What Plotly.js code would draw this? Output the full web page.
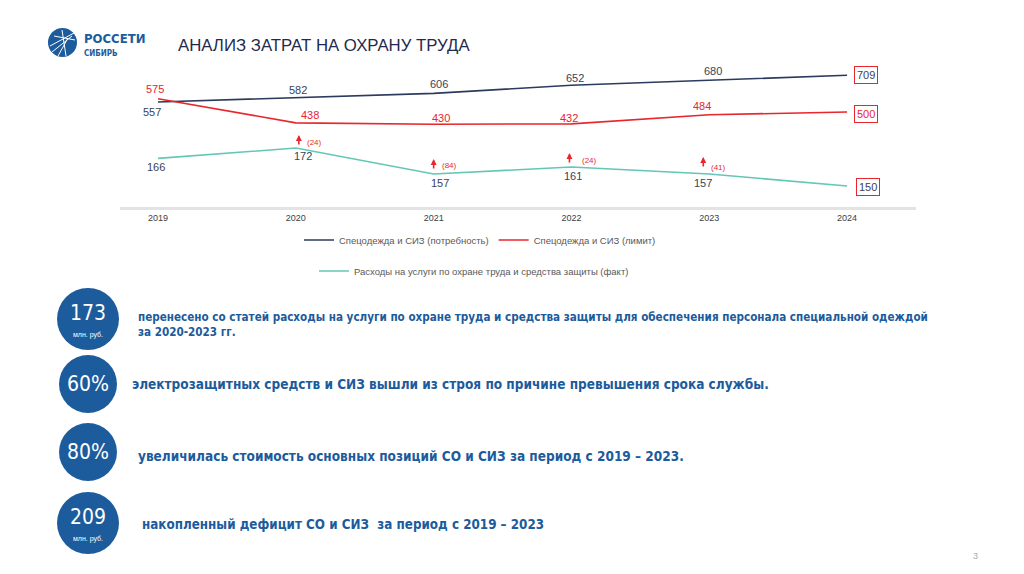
<!DOCTYPE html>
<html>
<head>
<meta charset="utf-8">
<script src="https://cdn.plot.ly/plotly-3.0.1.min.js"></script>
<style>html,body{margin:0;padding:0;background:#fff;}#chart{width:1024px;height:574px;}</style>
</head>
<body>
<div id="chart"></div>
<script>
// ---- data ----
const years = [2019, 2020, 2021, 2022, 2023, 2024];
const needValues = [557, 582, 606, 652, 680, 709];   // Спецодежда и СИЗ (потребность)
const limitValues = [575, 438, 430, 432, 484, 500];  // Спецодежда и СИЗ (лимит)
const factValues = [166, 172, 157, 161, 157, 150];   // Расходы на услуги ... (факт)
const transferYears = [2020, 2021, 2022, 2023];
const transferValues = [24, 84, 24, 41];
const seriesNames = ["Спецодежда и СИЗ (потребность)", "Спецодежда и СИЗ (лимит)", "Расходы на услуги по охране труда и средства защиты (факт)"];
const tickLabels = ["2019", "2020", "2021", "2022", "2023", "2024"];
const badgeMain = ["173", "60%", "80%", "209"];
const badgeSub = ["млн. руб.", "", "", "млн. руб."];
const badgeTexts = [
  "перенесено со статей расходы на услуги по охране труда и средства защиты для обеспечения персонала специальной одеждой<br>за 2020-2023 гг.",
  "электрозащитных средств и СИЗ вышли из строя по причине превышения срока службы.",
  "увеличилась стоимость основных позиций СО и СИЗ за период с 2019 – 2023.",
  "накопленный дефицит СО и СИЗ  за период с 2019 – 2023"
];
const titleText = "АНАЛИЗ ЗАТРАТ НА ОХРАНУ ТРУДА";

// ---- helpers ----
const W = 1024, H = 574;
const px = x => x / W;
const py = y => 1 - y / H;
const NAVY = "#2b3a5e", LABEL = "#3b4256", RED = "#e8262c", TEAL = "#63c7b6", BLUE = "#1c5b9c";
const FONT = "Liberation Sans, Arial, sans-serif";
const NARROW = "DejaVu Sans Condensed, Liberation Sans, sans-serif";

const traces = [
  {x: years, y: needValues, name: seriesNames[0], mode: "lines", line: {color: NAVY, width: 1.6}, legend: "legend", hoverinfo: "skip"},
  {x: years, y: limitValues, name: seriesNames[1], mode: "lines", line: {color: RED, width: 1.6}, legend: "legend", hoverinfo: "skip"},
  {x: years, y: factValues, name: seriesNames[2], mode: "lines", line: {color: TEAL, width: 1.6}, yaxis: "y2", legend: "legend2", hoverinfo: "skip"}
];

const ann = [];
// blue labels
const needShift = [[-6, -10], [2, 8], [5, 9], [4, 7], [4, 9], [19, 0]];
needValues.forEach((v, i) => {
  const last = i === needValues.length - 1;
  ann.push({x: years[i], y: v, xref: "x", yref: "y", text: String(v), showarrow: false,
    xshift: needShift[i][0], yshift: needShift[i][1],
    font: {family: FONT, size: 11, color: LABEL},
    bordercolor: last ? RED : "rgba(0,0,0,0)", borderwidth: last ? 1 : 0, borderpad: 2});
});
const limitShift = [[-3, 10], [14, 8], [7, 6], [-2, 6], [-7, 9], [19, -2]];
limitValues.forEach((v, i) => {
  const last = i === limitValues.length - 1;
  ann.push({x: years[i], y: v, xref: "x", yref: "y", text: String(v), showarrow: false,
    xshift: limitShift[i][0], yshift: limitShift[i][1],
    font: {family: FONT, size: 11, color: RED},
    bordercolor: last ? RED : "rgba(0,0,0,0)", borderwidth: last ? 1 : 0, borderpad: 2});
});
const factShift = [[-2, -9], [7, -8], [6, -9], [2, -9], [-6, -9], [21, -1]];
factValues.forEach((v, i) => {
  const last = i === factValues.length - 1;
  ann.push({x: years[i], y: v, xref: "x", yref: "y2", text: String(v), showarrow: false,
    xshift: factShift[i][0], yshift: factShift[i][1],
    font: {family: FONT, size: 11, color: LABEL},
    bordercolor: last ? RED : "rgba(0,0,0,0)", borderwidth: last ? 1 : 0, borderpad: 2});
});
// transfer arrows
const arrowShift = [[3, 13], [0, 15], [-2, 14], [-6, 17]];
const arrowTextShift = [[19, 6], [16, 8], [18, 7], [9, 6]];
transferYears.forEach((yr, i) => {
  const v = factValues[years.indexOf(yr)];
  ann.push({x: yr, y: v, xref: "x", yref: "y2", text: "", showarrow: true,
    ax: 0, ay: 11, arrowhead: 2, arrowsize: 0.75, arrowwidth: 1.6, arrowcolor: RED,
    xshift: arrowShift[i][0], yshift: arrowShift[i][1], standoff: 0, startstandoff: 0});
  ann.push({x: yr, y: v, xref: "x", yref: "y2", text: "(" + transferValues[i] + ")", showarrow: false,
    xshift: arrowTextShift[i][0], yshift: arrowTextShift[i][1],
    font: {family: FONT, size: 8, color: RED}});
});

// title & logo
ann.push({x: px(176), y: py(45), xref: "paper", yref: "paper", xanchor: "left", yanchor: "middle",
  text: titleText, showarrow: false, font: {family: FONT, size: 16.8, color: "#1f2a4d"}});
ann.push({x: px(82), y: py(38), xref: "paper", yref: "paper", xanchor: "left", yanchor: "middle",
  text: "<b>РОССЕТИ</b>", showarrow: false, font: {family: NARROW, size: 13, color: BLUE}});
ann.push({x: px(82), y: py(53), xref: "paper", yref: "paper", xanchor: "left", yanchor: "middle",
  text: "<b>СИБИРЬ</b>", showarrow: false, font: {family: NARROW, size: 8, color: BLUE}});
ann.push({x: px(975), y: py(556), xref: "paper", yref: "paper", xanchor: "center", yanchor: "middle",
  text: "3", showarrow: false, font: {family: FONT, size: 9, color: "#aaaaaa"}});

// badges
const badgeCY = [319, 384, 452, 523];
const badgeR = [31, 29, 29, 31];
const badgeTextX = [136, 130, 136, 140];
const badgeTextY = [324, 384, 456, 524];
const badgeTextSize = [11.6, 13.5, 13.5, 13.3];
const shapes = [];
badgeMain.forEach((t, i) => {
  const cx = 88, cy = badgeCY[i], r = badgeR[i];
  shapes.push({type: "circle", xref: "paper", yref: "paper", x0: px(cx - r), x1: px(cx + r), y0: py(cy + r), y1: py(cy - r),
    fillcolor: BLUE, line: {width: 0}});
  const hasSub = badgeSub[i] !== "";
  ann.push({x: px(cx), y: py(hasSub ? cy - 6 : cy), xref: "paper", yref: "paper", xanchor: "center", yanchor: "middle",
    text: t, showarrow: false, font: {family: NARROW, size: 21, color: "#ffffff", weight: 300}});
  if (hasSub) ann.push({x: px(cx), y: py(cy + 16), xref: "paper", yref: "paper", xanchor: "center", yanchor: "middle",
    text: badgeSub[i], showarrow: false, font: {family: FONT, size: 7, color: "#ffffff"}});
  ann.push({x: px(badgeTextX[i]), y: py(badgeTextY[i]), xref: "paper", yref: "paper", xanchor: "left", yanchor: "middle", align: "left",
    text: "<b>" + badgeTexts[i] + "</b>", showarrow: false, font: {family: NARROW, size: badgeTextSize[i], color: BLUE}});
});

// logo icon
shapes.push({type: "circle", xref: "paper", yref: "paper", x0: px(48), x1: px(77), y0: py(57), y1: py(28), fillcolor: BLUE, line: {width: 0}});
[[50, 46, 74, 33], [52, 52, 72, 36], [58, 56, 68, 38], [62, 30, 66, 56], [54, 36, 75, 40]].forEach(s => {
  shapes.push({type: "line", xref: "paper", yref: "paper", x0: px(s[0]), y0: py(s[1]), x1: px(s[2]), y1: py(s[3]), line: {color: "#ffffff", width: 1}});
});

const layout = {
  width: W, height: H,
  margin: {l: 0, r: 0, t: 0, b: 0},
  paper_bgcolor: "#ffffff", plot_bgcolor: "#ffffff",
  showlegend: true,
  xaxis: {domain: [px(120), px(916)], range: [2018.724, 2024.5], tickvals: years, ticktext: tickLabels,
    showgrid: false, zeroline: false, showline: true, linecolor: "#e3e3e3", linewidth: 3, ticks: "",
    tickfont: {family: FONT, size: 9, color: "#404040"}, anchor: "y", fixedrange: true},
  yaxis: {domain: [py(207), py(60)], range: [-41.6, 796], visible: false, fixedrange: true},
  yaxis2: {domain: [py(207), py(60)], range: [137.9, 222.9], overlaying: "y", visible: false, fixedrange: true},
  legend: {orientation: "h", x: px(480), y: py(240), xanchor: "center", yanchor: "middle",
    font: {family: FONT, size: 9.5, color: "#595959"}, bgcolor: "rgba(0,0,0,0)"},
  legend2: {orientation: "h", x: px(474), y: py(271), xanchor: "center", yanchor: "middle",
    font: {family: FONT, size: 9.5, color: "#595959"}, bgcolor: "rgba(0,0,0,0)"},
  annotations: ann,
  shapes: shapes
};

Plotly.newPlot("chart", traces, layout, {displayModeBar: false, staticPlot: true});
</script>
</body>
</html>
